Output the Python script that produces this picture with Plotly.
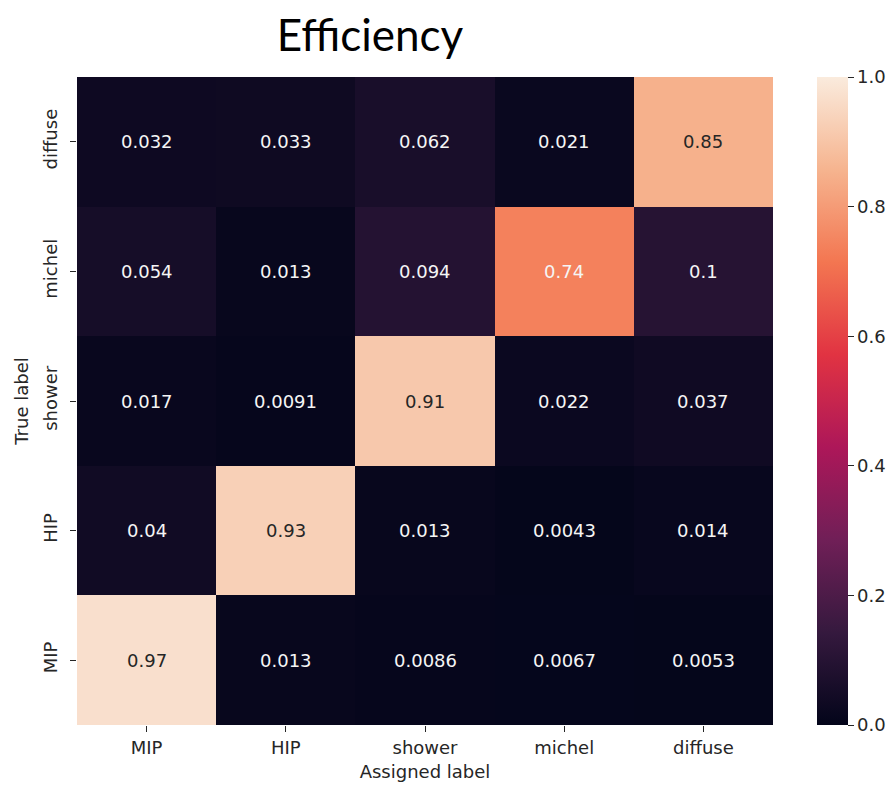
import plotly.graph_objects as go

# Class labels (assigned = columns, true = rows, bottom to top)
assigned_labels = ["MIP", "HIP", "shower", "michel", "diffuse"]
true_labels = ["MIP", "HIP", "shower", "michel", "diffuse"]

# Efficiency matrix: one row per true label, one value per assigned label
row_mip = [0.97, 0.013, 0.0086, 0.0067, 0.0053]
row_hip = [0.04, 0.93, 0.013, 0.0043, 0.014]
row_shower = [0.017, 0.0091, 0.91, 0.022, 0.037]
row_michel = [0.054, 0.013, 0.094, 0.74, 0.1]
row_diffuse = [0.032, 0.033, 0.062, 0.021, 0.85]

z = [row_mip, row_hip, row_shower, row_michel, row_diffuse]

colorbar_ticks = [0.0, 0.2, 0.4, 0.6, 0.8, 1.0]

# seaborn "rocket" colormap approximation
rocket = [
    [0.0, "#03051a"],
    [1 / 7, "#35193e"],
    [2 / 7, "#701f57"],
    [3 / 7, "#ad1759"],
    [4 / 7, "#e13342"],
    [5 / 7, "#f37651"],
    [6 / 7, "#f6b48f"],
    [1.0, "#faebdd"],
]

W, H = 896, 785
L, R, T, B = 77, 123, 77, 60
TXT = "#262626"
FONT = "DejaVu Sans"

fig = go.Figure(
    go.Heatmap(
        z=z,
        x=assigned_labels,
        y=true_labels,
        zmin=0,
        zmax=1,
        colorscale=rocket,
        xgap=0,
        ygap=0,
        colorbar=dict(
            x=(817 - L) / (W - L - R),
            xanchor="left",
            xpad=0,
            y=0.5,
            yanchor="middle",
            len=1,
            lenmode="fraction",
            ypad=0,
            thickness=31,
            thicknessmode="pixels",
            outlinewidth=0,
            tickvals=colorbar_ticks,
            ticktext=[f"{t:.1f}" for t in colorbar_ticks],
            ticks="outside",
            ticklen=6,
            tickwidth=1,
            tickcolor=TXT,
            tickfont=dict(family=FONT, size=18, color=TXT),
        ),
        hoverinfo="skip",
    )
)

# Cell annotations: dark text on light cells, light text on dark cells
annotations = []
for yi, row in enumerate(z):
    for xi, v in enumerate(row):
        annotations.append(
            dict(
                x=assigned_labels[xi],
                y=true_labels[yi],
                xref="x",
                yref="y",
                text=f"{v:.2g}",
                showarrow=False,
                font=dict(family=FONT, size=18, color=TXT if v > 0.8 else "#f5f5f5"),
            )
        )

fig.update_layout(
    width=W,
    height=H,
    margin=dict(l=L, r=R, t=T, b=B, autoexpand=False),
    paper_bgcolor="white",
    plot_bgcolor="white",
    annotations=annotations,
    title=dict(
        text="Efficiency",
        xref="container",
        yref="container",
        x=370 / W,
        xanchor="center",
        y=1 - 36 / H,
        yanchor="middle",
        font=dict(family="Lato", size=44, color="black"),
    ),
    xaxis=dict(
        title=dict(text="Assigned label", font=dict(family=FONT, size=18, color=TXT), standoff=8),
        tickfont=dict(family=FONT, size=18, color=TXT),
        ticks="outside",
        ticklen=6,
        tickcolor=TXT,
        showgrid=False,
        zeroline=False,
        showline=False,
        automargin=False,
        constrain="domain",
    ),
    yaxis=dict(
        title=dict(text="True label", font=dict(family=FONT, size=18, color=TXT), standoff=6),
        tickfont=dict(family=FONT, size=18, color=TXT),
        tickangle=-90,
        ticklabelstandoff=6,
        ticks="outside",
        ticklen=6,
        tickcolor=TXT,
        showgrid=False,
        zeroline=False,
        showline=False,
        automargin=False,
    ),
)

fig.write_html("out.html")
